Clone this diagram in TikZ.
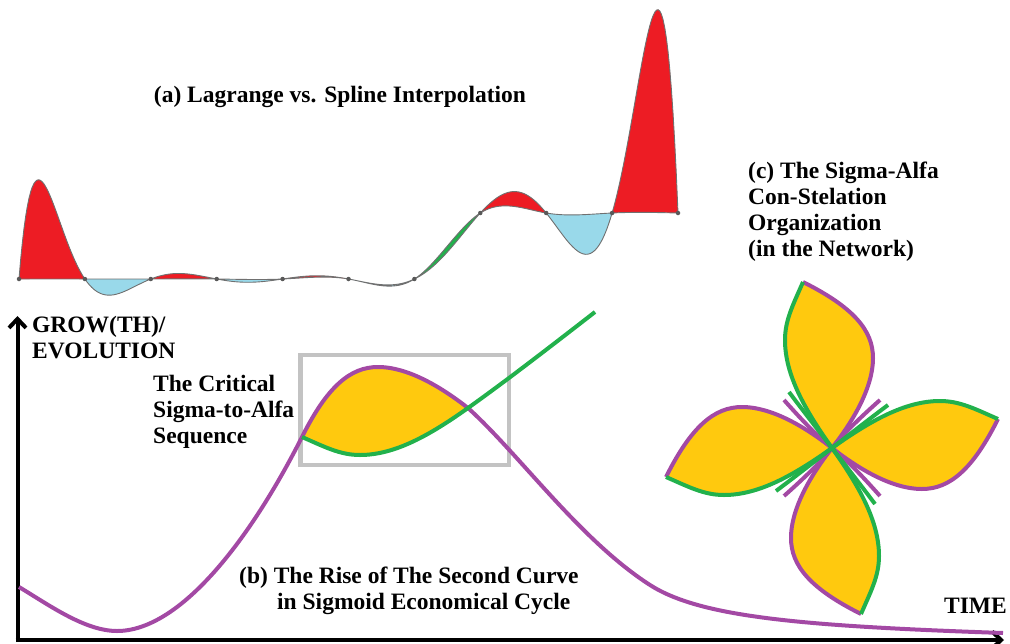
\documentclass[tikz,border=0pt]{standalone}
\usepackage{fontspec}
\setmainfont{Liberation Serif}
\usetikzlibrary{arrows.meta}
\definecolor{cred}{HTML}{ED1C24}
\definecolor{cblue}{HTML}{99D9EA}
\definecolor{cgreen}{HTML}{22B14C}
\definecolor{cpurple}{HTML}{A349A4}
\definecolor{cyellow}{HTML}{FFC90E}
\definecolor{cbox}{HTML}{C3C3C3}
\definecolor{curvegray}{HTML}{707070}
% Lagrange polynomial through (0..6 -> 0, 7..10 -> 1)
\newcommand\LagP[1]{((#1)*((#1)-1)*((#1)-2)*((#1)-3)*((#1)-4)*((#1)-5)*((#1)-6)*(((#1)-8)*((#1)-9)*((#1)-10)/(-30240)+((#1)-7)*((#1)-9)*((#1)-10)/80640+((#1)-7)*((#1)-8)*((#1)-10)/(-362880)+((#1)-7)*((#1)-8)*((#1)-9)/3628800))}
% natural cubic spline second derivatives
\newcommand\Mval[1]{\ifcase#1 0\or -0.0028152\or 0.011261\or -0.042228\or 0.15765\or -0.58838\or 2.19594\or -2.19540\or 0.58544\or -0.14636\or 0\fi}
\newcommand\Yval[1]{\ifnum#1>6 1\else 0\fi}
\newcommand\SplV[3]{((\Mval{#1})*(1-#3)^3/6+(\Mval{#2})*(#3)^3/6+(\Yval{#1}-(\Mval{#1})/6)*(1-#3)+(\Yval{#2}-(\Mval{#2})/6)*(#3))}
\begin{document}
\begin{tikzpicture}[x=1pt,y=-1pt,
  lbl/.style={font=\fontsize{23.5}{26}\selectfont\bfseries, inner sep=0pt, align=left},
  sigma/.style={draw=cpurple, line width=4pt},
  alfa/.style={draw=cgreen, line width=4pt},
  interp/.style={draw=curvegray, line width=0.9pt},
  knot/.style={circle, fill=black!65, inner sep=0pt, minimum size=4.5pt},
  axisline/.style={draw=black, line width=4pt},
  zoombox/.style={draw=cbox, line width=4.3pt}]
\useasboundingbox (0,0) rectangle (1010,643);

% ---------- (a) Lagrange vs spline ----------
\foreach \i/\col in {0/cred,1/cblue,2/cred,3/cblue,4/cred,5/cblue,6/cgreen,7/cred,8/cblue,9/cred}{
  \pgfmathtruncatemacro\j{\i+1}
  \xdef\segpts{}
  \foreach \k in {0,...,40}{
    \xdef\segpts{\segpts (\fpeval{round(19+65.9*(\i+\k/40),2)},\fpeval{round(279-66*\LagP{(\i+\k/40)},2)})}
  }
  \foreach \k in {40,...,0}{
    \xdef\segpts{\segpts (\fpeval{round(19+65.9*(\i+\k/40),2)},\fpeval{round(279-66*\SplV{\i}{\j}{(\k/40)},2)})}
  }
  \filldraw[fill=\col, interp] plot coordinates {\segpts} -- cycle;
}
\foreach \i in {0,...,10}{
  \pgfmathsetmacro\ky{\i>6 ? 213 : 279}
  \node[knot] (k\i) at ({19+65.9*\i},\ky) {};
}

% ---------- (b) axes ----------
\coordinate (origin) at (17.5,640);
\coordinate (ytip) at (17.5,316);
\coordinate (xtip) at (1004,640);
\draw[axisline, -{Straight Barb[length=9pt,width=17pt]}] (17.5,642) -- (ytip);
\draw[axisline, -{Straight Barb[length=9pt,width=17pt]}] (15.5,640) -- (xtip);

% zoom box
\draw[zoombox] (300.5,355) rectangle (509,465);

% yellow lens
\fill[cyellow] (302,437) .. controls (327,387) and (350,367) .. (378,367)
  .. controls (410,367) and (445,390) .. (468,408)
  .. controls (430,435) and (395,455) .. (360,455)
  .. controls (340,455) and (325,447) .. (302,437) -- cycle;
% sigmoid cycle (purple)
\draw[sigma] (19,587) .. controls (49,605) and (85,631) .. (117,631)
  .. controls (180,631) and (250,540) .. (302,437)
  .. controls (327,387) and (350,367) .. (378,367)
  .. controls (410,367) and (445,390) .. (468,408)
  .. controls (520,455) and (580,540) .. (650,585)
  .. controls (700,617) and (800,626) .. (1003,633);
% second curve (green)
\draw[alfa] (302,437) .. controls (325,447) and (340,455) .. (360,455)
  .. controls (395,455) and (430,435) .. (468,408)
  .. controls (510,378) and (555,343) .. (595,312);

% ---------- (c) flower ----------
\foreach \r in {0,-90,-180,-270}{
  \begin{scope}[shift={(832,448)}, rotate=\r]
    \fill[cyellow] (-166,29) .. controls (-141,-21) and (-118,-41) .. (-90,-41)
      .. controls (-58,-41) and (-23,-18) .. (0,0)
      .. controls (-38,27) and (-73,47) .. (-108,47)
      .. controls (-128,47) and (-143,39) .. (-166,29) -- cycle;
  \end{scope}
}
\foreach \r in {0,-90,-180,-270}{
  \begin{scope}[shift={(832,448)}, rotate=\r]
    \draw[sigma] (-166,29) .. controls (-141,-21) and (-118,-41) .. (-90,-41)
      .. controls (-58,-41) and (-23,-18) .. (0,0)
      .. controls (16,13) and (32,30) .. (48,48);
  \end{scope}
}
\foreach \r in {0,-90,-180,-270}{
  \begin{scope}[shift={(832,448)}, rotate=\r]
    \draw[alfa] (-166,29) .. controls (-143,39) and (-128,47) .. (-108,47)
      .. controls (-73,47) and (-38,27) .. (0,0)
      .. controls (20,-15.5) and (38,-29.5) .. (56,-43);
  \end{scope}
}

% ---------- labels ----------
\node[lbl, anchor=base] (ta) at (340,102) {(a) Lagrange vs. Spline Interpolation};
\node[lbl, anchor=north west] (tc) at (748,162) {(c) The Sigma-Alfa\\Con-Stelation\\Organization\\(in the Network)};
\node[lbl, anchor=north west] (tg) at (32,316) {GROW(TH)/\\EVOLUTION};
\node[lbl, anchor=north west] (ts) at (153,375) {The Critical\\Sigma-to-Alfa\\Sequence};
\node[lbl, anchor=north west] (tb) at (239,567) {(b) The Rise of The Second Curve\\\hspace*{38pt}in Sigmoid Economical Cycle};
\node[lbl, anchor=base east] (tt) at (1007,613) {TIME};
\end{tikzpicture}
\end{document}
